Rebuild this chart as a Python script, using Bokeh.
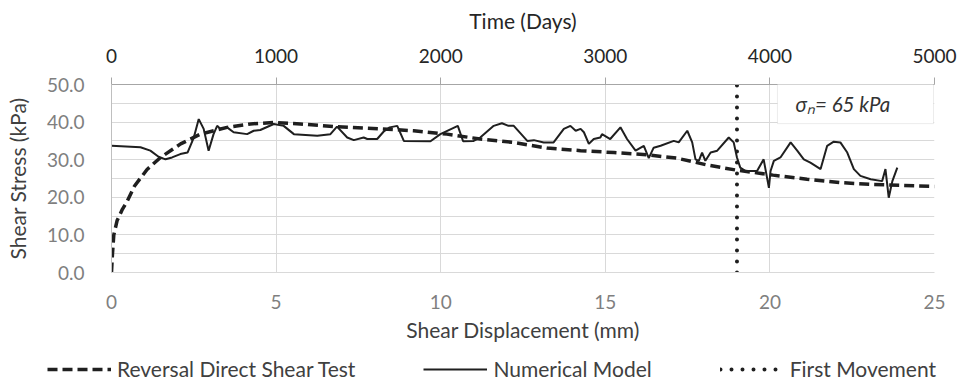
from bokeh.plotting import figure
from bokeh.layouts import column
from bokeh.models import (Range1d, LinearAxis, SingleIntervalTicker, NumeralTickFormatter,
                          Legend, LegendItem, BoxAnnotation, Label)
from bokeh.embed import file_html
from bokeh.resources import INLINE

# ---------------- data ----------------
rdst_disp = [0.0, 0.03, 0.07, 0.17, 0.33, 0.48, 0.70, 1.08, 1.49, 2.10, 2.70, 3.51, 4.22, 4.93,
             5.74, 6.75, 8.17, 9.18, 10.19, 11.20, 12.20, 13.23, 14.25, 15.26, 16.27, 17.18,
             18.09, 19.00, 20.10, 21.13, 22.14, 23.16, 25.00]
rdst_stress = [0.0, 5.0, 10.0, 13.8, 16.8, 19.0, 23.0, 27.4, 30.6, 34.2, 36.8, 38.6, 39.5, 39.9,
               39.5, 38.8, 38.2, 37.7, 36.8, 35.5, 34.6, 33.1, 32.4, 31.9, 31.3, 30.4,
               28.6, 27.2, 25.9, 24.8, 23.9, 23.4, 22.9]

num_disp = [0.0, 0.88, 1.18, 1.43, 1.64, 1.84, 2.09, 2.31, 2.50, 2.65, 2.80, 2.95, 3.10, 3.21,
            3.31, 3.51, 3.71, 4.12, 4.32, 4.52, 4.93, 5.23, 5.54, 6.25, 6.65, 6.85, 7.16, 7.36,
            7.66, 7.77, 8.07, 8.27, 8.45, 8.68, 8.88, 9.69, 9.99, 10.52, 10.68, 11.00, 11.20,
            11.61, 11.86, 12.06, 12.22, 12.63, 12.83, 13.13, 13.43, 13.74, 13.94, 14.10, 14.25,
            14.35, 14.50, 14.65, 14.85, 14.90, 15.15, 15.46, 15.66, 15.92, 16.17, 16.32, 16.47,
            16.68, 17.08, 17.23, 17.49, 17.64, 17.74, 17.84, 17.94, 18.04, 18.20, 18.40, 18.75,
            18.90, 19.00, 19.10, 19.26, 19.61, 19.81, 19.97, 20.02, 20.12, 20.32, 20.63, 20.83,
            21.03, 21.23, 21.54, 21.74, 21.94, 22.14, 22.35, 22.55, 22.75, 23.06, 23.41, 23.51,
            23.61, 23.72, 23.87]
num_stress = [33.7, 33.3, 32.4, 30.8, 30.1, 30.6, 31.5, 31.9, 35.9, 40.8, 38.2, 32.4, 36.8, 39.0,
              38.2, 38.6, 37.3, 36.8, 37.7, 37.9, 39.5, 39.0, 36.8, 36.4, 36.8, 38.8, 35.9, 35.2,
              35.9, 35.5, 35.5, 37.5, 38.6, 39.0, 35.0, 34.9, 36.8, 39.0, 34.9, 35.0, 35.9,
              39.0, 39.7, 39.0, 39.0, 35.0, 35.2, 34.6, 34.6, 38.2, 39.0, 37.7, 38.2,
              37.3, 34.2, 35.5, 35.9, 36.8, 35.5, 38.6, 35.5, 32.4, 33.7, 30.4, 33.2,
              33.7, 35.0, 34.6, 37.7, 34.6, 30.1, 29.7, 31.9, 29.7, 31.9, 32.4, 35.9,
              34.6, 30.6, 27.9, 27.0, 27.0, 30.1, 22.5, 27.0, 29.7, 30.6, 34.6, 32.4,
              30.1, 29.2, 27.5, 33.7, 34.8, 34.6, 31.9, 27.5, 25.7, 24.8, 24.3, 27.5,
              19.9, 24.3, 27.9]

first_move_disp = [19.0, 19.0]
first_move_stress = [0.0, 50.0]

series_names = ["Reversal Direct Shear Test", "Numerical Model", "First Movement"]
annotation_text = "σₙ= 65 kPa"

# ---------------- styles ----------------
FONT = "Lato"
TICK_SIZE = "19px"
TITLE_SIZE = "21px"
INK = "#1f1f1f"
STYLE_RDST = dict(line_color=INK, line_width=3.5, line_dash="10 5")
STYLE_NUM = dict(line_color=INK, line_width=2)
STYLE_FM = dict(line_color=INK, line_width=4, line_dash="0 11", line_cap="round")

# ---------------- main figure ----------------
p = figure(width=957, height=350, x_range=Range1d(0, 25), y_range=Range1d(0, 50),
           output_backend="svg", toolbar_location=None,
           min_border_left=111, min_border_right=23, min_border_top=84, min_border_bottom=78)
p.extra_x_ranges = {"time": Range1d(0, 5000)}
p.outline_line_color = None

# bottom axis
xa = p.xaxis[0]
xa.axis_label = "Shear Displacement (mm)"
xa.ticker = SingleIntervalTicker(interval=5)
xa.axis_line_color = "#d9d9d9"
xa.major_tick_line_color = None
xa.minor_tick_line_color = None
xa.major_label_text_color = "#7f7f7f"
xa.major_label_text_font = FONT
xa.major_label_text_font_size = TICK_SIZE
xa.major_label_standoff = 16
xa.axis_label_text_font = FONT
xa.axis_label_text_font_style = "normal"
xa.axis_label_text_font_size = TITLE_SIZE
xa.axis_label_text_color = "#404040"
xa.axis_label_standoff = 5

# left axis
ya = p.yaxis[0]
ya.axis_label = "Shear Stress (kPa)"
ya.ticker = SingleIntervalTicker(interval=10)
ya.formatter = NumeralTickFormatter(format="0.0")
ya.axis_line_color = "#bfbfbf"
ya.major_tick_line_color = None
ya.minor_tick_line_color = None
ya.major_label_text_color = "#7f7f7f"
ya.major_label_text_font = FONT
ya.major_label_text_font_size = TICK_SIZE
ya.major_label_standoff = 21
ya.axis_label_text_font = FONT
ya.axis_label_text_font_style = "normal"
ya.axis_label_text_font_size = TITLE_SIZE
ya.axis_label_text_color = "#404040"
ya.axis_label_standoff = 14

# top axis
top = LinearAxis(x_range_name="time", axis_label="Time (Days)",
                 ticker=SingleIntervalTicker(interval=1000))
top.axis_line_color = "#a6a6a6"
top.major_tick_line_color = "#a6a6a6"
top.major_tick_out = 7
top.major_tick_in = 0
top.minor_tick_line_color = None
top.major_label_text_color = "#262626"
top.major_label_text_font = FONT
top.major_label_text_font_size = TICK_SIZE
top.major_label_standoff = 15
top.axis_label_text_font = FONT
top.axis_label_text_font_style = "normal"
top.axis_label_text_font_size = TITLE_SIZE
top.axis_label_text_color = "#262626"
top.axis_label_standoff = 13
p.add_layout(top, "above")

# grids
p.xgrid[0].ticker = SingleIntervalTicker(interval=5)
p.ygrid[0].ticker = SingleIntervalTicker(interval=5)
p.xgrid[0].grid_line_color = "#d9d9d9"
p.ygrid[0].grid_line_color = "#d9d9d9"

# series
p.line(rdst_disp, rdst_stress, **STYLE_RDST)
p.line(num_disp, num_stress, **STYLE_NUM)
p.line(first_move_disp, first_move_stress, **STYLE_FM)

# annotation box
box = BoxAnnotation(left=20.23, right=24.97, bottom=39.6, top=50.4,
                    fill_color="white", fill_alpha=1.0, line_color="#bfbfbf", line_width=1)
p.add_layout(box)
lab = Label(x=20.78, y=44.7, text=annotation_text, text_font=FONT, text_font_style="italic",
            text_font_size="20.5px", text_baseline="middle", text_color="#333333")
p.add_layout(lab)

# ---------------- legend strip ----------------
# the strip's ranges lie far from the data, so its copies of the series stay out of view
leg = figure(width=957, height=30, x_range=Range1d(100, 101), y_range=Range1d(100, 101),
             output_backend="svg", toolbar_location=None, x_axis_type=None, y_axis_type=None,
             min_border_left=0, min_border_right=0, min_border_top=0, min_border_bottom=0)
free_frame = True
try:
    leg.frame_align = False
except Exception:
    free_frame = False
if not free_frame:
    leg.min_border_left = 111
    leg.min_border_right = 23

leg.outline_line_color = None
leg.grid.visible = False
g1 = leg.line(rdst_disp, rdst_stress, **STYLE_RDST)
g2 = leg.line(num_disp, num_stress, **STYLE_NUM)
g3 = leg.line(first_move_disp, first_move_stress, **STYLE_FM)

if free_frame:
    leg_kw = dict(location=(47, -1), glyph_width=64, spacing=68, label_text_font_size=TITLE_SIZE)
else:
    leg_kw = dict(location=(4, -1), glyph_width=50, spacing=48, label_text_font_size="20px")

legend = Legend(items=[LegendItem(label=series_names[0], renderers=[g1]),
                       LegendItem(label=series_names[1], renderers=[g2]),
                       LegendItem(label=series_names[2], renderers=[g3])],
                orientation="horizontal", glyph_height=20, label_standoff=6,
                padding=0, margin=0, border_line_color=None, background_fill_alpha=0,
                label_text_font=FONT, label_text_color="#404040", **leg_kw)
leg.add_layout(legend)

layout = column(p, leg, spacing=0)
open("out.html", "w").write(file_html(layout, INLINE))
